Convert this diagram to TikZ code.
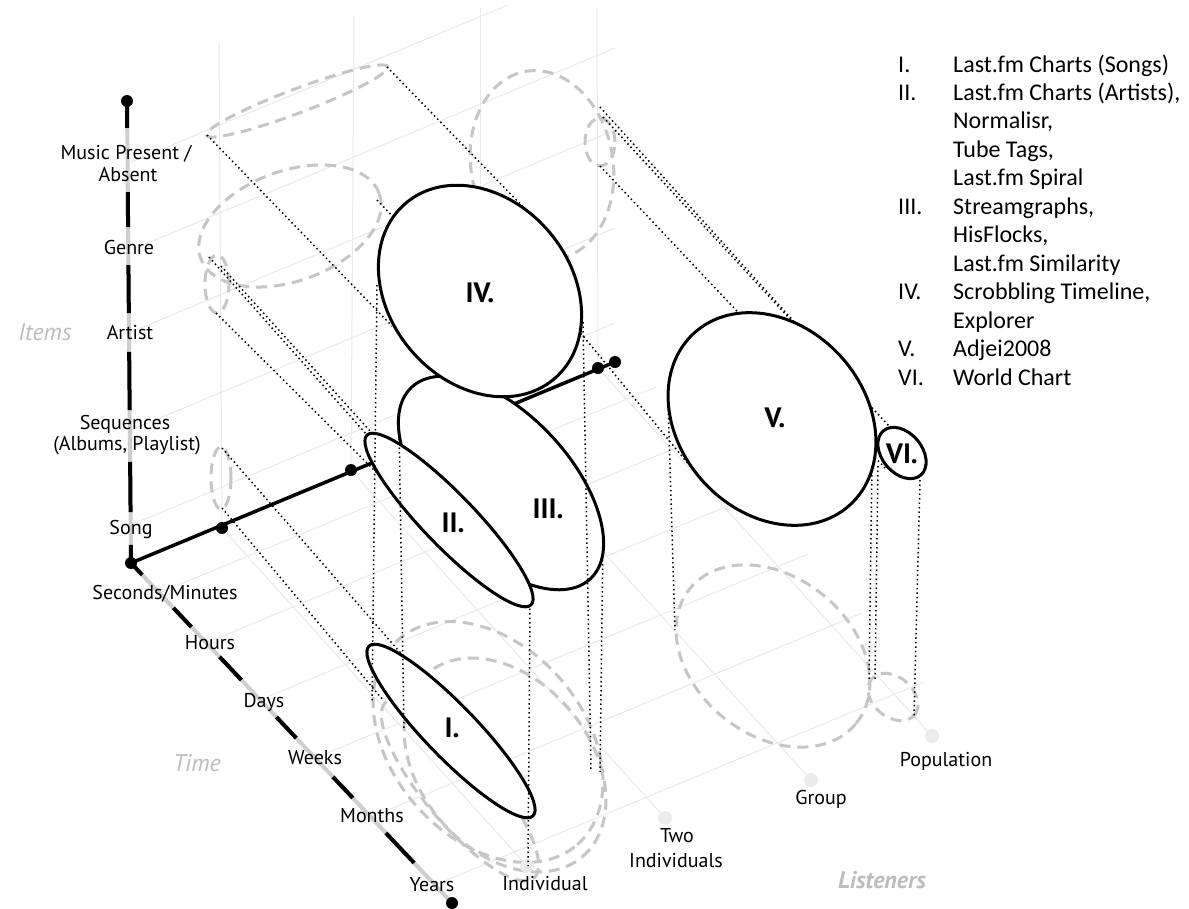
\documentclass[tikz,border=0pt]{standalone}
\usepackage{fontspec}
\setmainfont{Carlito}
\newfontfamily\labfont{PT Sans}
\usetikzlibrary{calc}
\definecolor{gridgray}{HTML}{EAEAEA}
\definecolor{dashgray}{HTML}{C6C6C6}
\definecolor{axisgray}{HTML}{CFCFCF}
\definecolor{labgray}{HTML}{BDBDBD}
\definecolor{tickgray}{HTML}{EBEBEB}
\begin{document}
\begin{tikzpicture}[x=1pt,y=-1pt,
  grid/.style={draw=gridgray, line width=1pt},
  gdash/.style={draw=dashgray, line width=3pt, dash pattern=on 11pt off 7pt},
  bell/.style={draw=black, line width=3pt, fill=white},
  dots/.style={draw=black, line width=1.5pt, dash pattern=on 1.5pt off 3pt},
  axgray/.style={draw=axisgray, line width=4pt},
  axblack/.style={draw=black, line width=4pt},
  laxis/.style={draw=black, line width=3.5pt},
  bdot/.style={fill=black},
  gdot/.style={fill=tickgray},
  axlab/.style={anchor=base, inner sep=0pt, font=\labfont\fontsize{20}{24}\selectfont},
  dimlab/.style={anchor=base, inner sep=0pt, text=labgray, font=\labfont\fontsize{24}{28}\selectfont\itshape},
  numlab/.style={anchor=base, inner sep=0pt, font=\labfont\fontsize{28}{32}\selectfont\bfseries},
  legnum/.style={anchor=base west, inner sep=0pt, font=\fontsize{24}{28}\selectfont},
  legtxt/.style={anchor=base west, inner sep=0pt, font=\fontsize{24}{28}\selectfont}]

\fill[white] (0,0) rectangle (1189,908);
\useasboundingbox (0,0) rectangle (1189,908);

% ---------- axes end points and ticks ----------
\coordinate (O) at (131,563);
\coordinate (itop) at (127,101);
\coordinate (tend) at (452,903);
\coordinate (T1) at (222,528);
\coordinate (T2) at (351,470);
\coordinate (T3) at (480,417);
\coordinate (T4) at (598,368);
\coordinate (lend) at (615,362);
\coordinate (B1) at (527,866);
\coordinate (B2) at (665,818);
\coordinate (B3) at (811,780);
\coordinate (B4) at (932,736);

% ---------- back wall grid ----------
\draw[grid] (T1) -- (219,42);
\draw[grid] (T2) -- (354,15);
\draw[grid] (T3) -- (480,8);
\draw[grid] (T4) -- (597,8);
\draw[grid] (131,162) -- (508,5);
\draw[grid] (131,250) -- (615,48);
\draw[grid] (131,332) -- (615,130);
\draw[grid] (131,430) -- (615,228);
\draw[grid] (131,525) -- (615,323);

% ---------- floor grid ----------
\draw[grid] (T1) -- (B1);
\draw[grid] (T2) -- (B2);
\draw[grid] (T3) -- (B3);
\draw[grid] (T4) -- (B4);
\draw[grid] (159,593) -- (656,387);
\draw[grid] (206,643) -- (702,437);
\draw[grid] (260,700) -- (754,495);
\draw[grid] (315,758) -- (808,554);
\draw[grid] (371,817) -- (862,613);
\draw[grid] (435,885) -- (924,682);

% ---------- projections on the walls and floor ----------
\draw[gdash, rotate around={20.7:(297,101)}] (297,101) ellipse [x radius=97pt, y radius=12pt];
\draw[gdash, rotate around={20:(290,226)}] (290,226) ellipse [x radius=95pt, y radius=55pt];
\draw[gdash] (217,284) ellipse [x radius=12pt, y radius=29pt];
\draw[gdash] (221,478) ellipse [x radius=10pt, y radius=31pt];
\draw[gdash, rotate around={-80:(542,165)}] (542,165) ellipse [x radius=95pt, y radius=71pt];
\draw[gdash] (600,142) ellipse [x radius=15pt, y radius=24pt];
\draw[gdash, rotate around={-49:(488,742)}] (488,742) ellipse [x radius=136pt, y radius=96pt];
\draw[gdash, rotate around={-50:(505,765)}] (505,765) ellipse [x radius=120pt, y radius=85pt];
\draw[gdash, rotate around={-50:(460,790)}] (460,790) ellipse [x radius=115pt, y radius=35pt];
\draw[gdash, rotate around={-39:(773,656)}] (773,656) ellipse [x radius=107pt, y radius=79pt];
\draw[gdash, rotate around={-40:(893,697)}] (893,697) ellipse [x radius=28pt, y radius=20pt];

% ---------- projection lines along the time axis ----------
\coordinate (pa1) at (387,67);   \coordinate (pa2) at (530,214);
\coordinate (pb1) at (207,135);  \coordinate (pb2) at (392,326);
\coordinate (pc1) at (377,200);  \coordinate (pc2) at (400,224);
\coordinate (pd1) at (209,257);  \coordinate (pd2) at (375,444);
\coordinate (pe1) at (221,266);  \coordinate (pe2) at (380,442);
\coordinate (pf1) at (216,313);  \coordinate (pf2) at (380,476);
\coordinate (pg1) at (222,508);  \coordinate (pg2) at (383,700);
\coordinate (ph1) at (222,448);  \coordinate (ph2) at (405,658);
\coordinate (pi1) at (478,208);  \coordinate (pi2) at (690,466);
\coordinate (pj1) at (600,107);  \coordinate (pj2) at (798,326);
\coordinate (pk1) at (603,117);  \coordinate (pk2) at (900,438);
\coordinate (pl1) at (600,166);  \coordinate (pl2) at (885,468);
\foreach \s in {a,b,c,d,e,f,g,h,i,j,k,l}
  \draw[dots] (p\s1) -- (p\s2);

% ---------- items axis ----------
\draw[axgray] (itop) -- (O);
\foreach \p/\q in {0/0.058, 0.197/0.273, 0.355/0.459, 0.543/0.669, 0.781/0.890, 0.961/1}
  \draw[axblack] ($(itop)!\p!(O)$) -- ($(itop)!\q!(O)$);
% ---------- time axis ----------
\draw[axgray] (O) -- (tend);
\foreach \p/\q in {0/0.035, 0.132/0.188, 0.276/0.344, 0.453/0.515, 0.629/0.691, 0.794/0.882}
  \draw[axblack] ($(O)!\p!(tend)$) -- ($(O)!\q!(tend)$);
% ---------- listeners axis ----------
\draw[laxis] (O) -- (lend);
\foreach \c in {O, itop, tend, T1, T2, T4, lend}
  \fill[bdot] (\c) circle (6pt);
\foreach \c in {B1, B2, B3, B4}
  \fill[gdot] (\c) circle (7pt);

% ---------- visualisations ----------
\draw[bell, rotate around={-47:(501,483)}] (501,483) ellipse [x radius=131pt, y radius=69pt];
\draw[bell, rotate around={-50:(480,291)}] (480,291) ellipse [x radius=115pt, y radius=91pt];
\draw[bell, rotate around={-46:(449,520)}] (449,520) ellipse [x radius=118pt, y radius=26pt];
\draw[bell, rotate around={-46:(451,731)}] (451,731) ellipse [x radius=118pt, y radius=26pt];
\draw[bell, rotate around={-48:(772,419)}] (772,419) ellipse [x radius=116pt, y radius=93pt];
\draw[bell, rotate around={-50:(902,453)}] (902,453) ellipse [x radius=29pt, y radius=20pt];

% ---------- vertical projection lines ----------
\coordinate (va1) at (377,285);  \coordinate (va2) at (372,703);
\coordinate (vb1) at (399,425);  \coordinate (vb2) at (404,730);
\coordinate (vc1) at (530,604);  \coordinate (vc2) at (528,866);
\coordinate (vd1) at (583,322);  \coordinate (vd2) at (591,770);
\coordinate (ve1) at (603,537);  \coordinate (ve2) at (600,772);
\coordinate (vf1) at (668,400);  \coordinate (vf2) at (675,630);
\coordinate (vg1) at (872,466);  \coordinate (vg2) at (869,680);
\coordinate (vh1) at (878,466);  \coordinate (vh2) at (875,680);
\coordinate (vi1) at (920,480);  \coordinate (vi2) at (914,716);
\foreach \s in {a,b,c,d,e,f,g,h,i}
  \draw[dots] (v\s1) -- (v\s2);

\node[numlab] (nIV)  at (480,302) {IV.};
\node[numlab] (nIII) at (548,518) {III.};
\node[numlab] (nII)  at (453,532) {II.};
\node[numlab] (nI)   at (452,737) {I.};
\node[numlab] (nV)   at (775,427) {V.};
\node[numlab] (nVI)  at (902,463) {VI.};

% ---------- axis labels ----------
\node[axlab] (lmus)  at (126,159) {Music Present /};
\node[axlab] (labs)  at (128,181) {Absent};
\node[axlab] (lgen)  at (129,254) {Genre};
\node[axlab] (lart)  at (130,339) {Artist};
\node[axlab] (lseq)  at (125,429) {Sequences};
\node[axlab] (lalb)  at (127,450) {(Albums, Playlist)};
\node[axlab] (lsong) at (131,534) {Song};
\node[axlab] (lsec)  at (165,599) {Seconds/Minutes};
\node[axlab] (lhrs)  at (210,649) {Hours};
\node[axlab] (ldays) at (264,707) {Days};
\node[axlab] (lwks)  at (315,764) {Weeks};
\node[axlab] (lmon)  at (372,822) {Months};
\node[axlab] (lyrs)  at (432,891) {Years};
\node[axlab] (lind)  at (545,890) {Individual};
\node[axlab] (ltwo)  at (677,842) {Two};
\node[axlab] (ltwob) at (676,867) {Individuals};
\node[axlab] (lgrp)  at (821,804) {Group};
\node[axlab] (lpop)  at (946,766) {Population};
\node[dimlab] (ditems) at (45,340) {Items};
\node[dimlab] (dtime)  at (197,771) {Time};
\node[dimlab, font=\labfont\fontsize{24}{28}\selectfont\bfseries\itshape] (dlis) at (882,888) {Listeners};

% ---------- legend ----------
\node[legnum] (g1)  at (898,72)    {I.};
\node[legtxt] (h1)  at (953,72)    {Last.fm Charts (Songs)};
\node[legnum] (g2)  at (898,100.5) {II.};
\node[legtxt] (h2)  at (953,100.5) {Last.fm Charts (Artists),};
\node[legtxt] (h3)  at (953,128.9) {Normalisr,};
\node[legtxt] (h4)  at (953,157.4) {Tube Tags,};
\node[legtxt] (h5)  at (953,185.8) {Last.fm Spiral};
\node[legnum] (g6)  at (898,214.3) {III.};
\node[legtxt] (h6)  at (953,214.3) {Streamgraphs,};
\node[legtxt] (h7)  at (953,242.7) {HisFlocks,};
\node[legtxt] (h8)  at (953,271.2) {Last.fm Similarity};
\node[legnum] (g9)  at (898,299.6) {IV.};
\node[legtxt] (h9)  at (953,299.6) {Scrobbling Timeline,};
\node[legtxt] (h10) at (953,328.1) {Explorer};
\node[legnum] (g11) at (898,356.5) {V.};
\node[legtxt] (h11) at (953,356.5) {Adjei2008};
\node[legnum] (g12) at (898,385)   {VI.};
\node[legtxt] (h12) at (953,385)   {World Chart};
\end{tikzpicture}
\end{document}
